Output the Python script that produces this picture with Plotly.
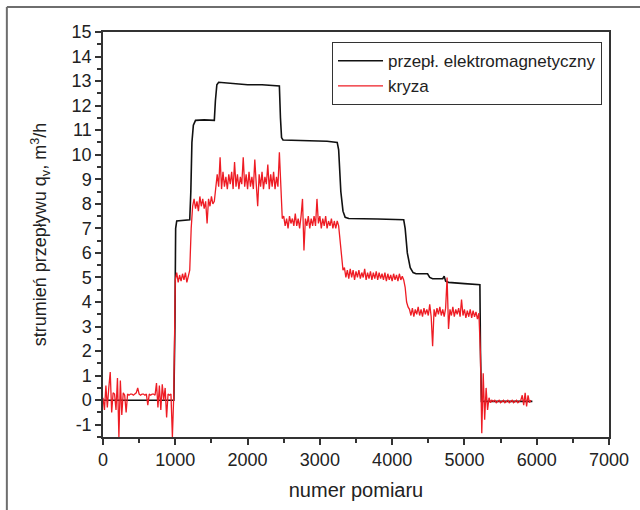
import numpy as np
import plotly.graph_objects as go

# --- Data -------------------------------------------------------------
# przepływomierz elektromagnetyczny (black) – breakpoints
em_x = [0, 500, 980, 995, 1005, 1020, 1200, 1215, 1230, 1250, 1280, 1400, 1540, 1555, 1575, 1600,
        1800, 2000, 2200, 2440, 2455, 2470, 2490, 2700, 2900, 3100, 3240, 3260, 3290, 3320, 3350,
        3400, 3800, 4160, 4180, 4210, 4250, 4290, 4330, 4490, 4520, 4560, 4700, 4720, 4740, 4780,
        5000, 5214, 5222, 5235, 5600, 5940]
em_y = [0.0, 0.0, 0.0, 3.0, 7.0, 7.3, 7.35, 8.5, 10.5, 11.2, 11.4, 11.42, 11.4, 12.2, 12.85, 12.95,
        12.9, 12.85, 12.85, 12.8, 11.5, 10.7, 10.6, 10.58, 10.55, 10.55, 10.5, 10.2, 8.5, 7.7, 7.45,
        7.4, 7.38, 7.35, 7.0, 6.0, 5.4, 5.2, 5.15, 5.15, 5.0, 4.95, 4.95, 5.05, 4.85, 4.8,
        4.75, 4.7, 2.0, -0.05, -0.05, -0.05]

# kryza (red) – sampled every 20 measurements
kryza_step = 20
kryza_y = [
    # 0 .. 980
    0.1, -0.4, 0.6, -0.3, 0.5, 1.15, -0.5, 0.3, 0.25, -0.4,
    0.9, -1.5, 0.8, -0.6, 0.3, 0.2, -0.5, 0.25, 0.2, 0.25,
    0.25, 0.2, 0.25, 0.3, 0.5, 0.25, 0.2, 0.25, 0.25, 0.2,
    0.25, -0.2, 0.25, 0.2, 0.25, 0.25, 0.2, 0.7, -0.3, 0.6,
    -0.4, 0.65, 0.0, 0.5, -0.7, 0.25, 0.2, 0.25, -1.5, 0.3,
    # 1000 .. 1180
    4.9, 5.2, 4.8, 5.1, 4.85, 5.15, 4.9, 5.2, 4.8, 5.05,
    # 1200 .. 1240
    5.3, 7.0, 7.9,
    # 1260 .. 1520
    8.2, 7.8, 8.1, 7.7, 8.3, 7.9, 8.2, 7.8, 8.1, 7.2, 8.2, 7.9, 8.3, 8.0,
    # 1540 .. 1560
    8.1, 8.6,
    # 1580 .. 2460
    9.2, 8.7, 9.9, 8.6, 9.3, 8.7, 9.1, 8.6, 9.2, 8.8,
    9.3, 8.6, 9.7, 8.7, 9.2, 8.6, 9.1, 8.8, 9.9, 8.7,
    9.2, 8.6, 9.3, 8.7, 9.1, 8.6, 9.8, 8.8, 7.9, 9.2,
    8.7, 9.3, 8.6, 9.1, 8.8, 9.6, 8.6, 9.2, 8.7, 9.3,
    8.6, 9.1, 8.7, 10.1, 8.8,
    # 2480
    7.4,
    # 2500 .. 3260
    7.5, 7.1, 7.4, 7.0, 7.5, 7.2, 7.4, 7.1, 7.6, 7.1,
    7.4, 7.0, 7.5, 8.2, 6.1, 7.4, 7.1, 7.5, 7.0, 7.4,
    7.1, 7.5, 7.1, 8.2, 7.2, 7.5, 7.0, 7.4, 7.1, 7.5,
    7.0, 7.3, 7.1, 7.4, 7.0, 7.3, 7.0, 7.3, 7.1,
    # 3280 .. 3320
    6.5, 5.6, 5.3,
    # 3340 .. 4140
    5.4, 5.0, 5.3, 4.95, 5.35, 5.0, 5.3, 4.9, 5.25, 5.0,
    5.3, 4.95, 5.2, 5.0, 5.35, 4.9, 5.2, 4.95, 5.25, 4.9,
    5.2, 4.95, 5.25, 4.9, 5.2, 4.95, 5.15, 4.9, 5.2, 4.85,
    5.15, 4.9, 5.1, 4.85, 5.15, 4.9, 5.1, 4.85, 5.15, 4.9,
    5.05,
    # 4160 .. 4220
    4.9, 4.6, 4.0, 3.8,
    # 4240 .. 5200
    3.7, 3.45, 3.75, 3.4, 3.7, 3.5, 3.8, 3.45, 3.7, 3.4,
    3.75, 3.5, 3.7, 3.45, 3.9, 3.4, 2.2, 3.7, 3.4, 3.75,
    3.5, 3.8, 3.45, 3.7, 3.4, 3.75, 5.0, 2.9, 3.7, 3.45,
    3.8, 3.4, 3.7, 3.5, 3.75, 3.4, 4.1, 3.45, 3.7, 3.35,
    3.65, 3.4, 3.7, 3.35, 3.65, 3.4, 3.6, 3.3, 3.55,
    # 5220 .. 5340
    2.0, -1.35, 1.1, -0.8, 0.5, -0.4, 0.1,
    # 5360 .. 5920
    -0.1, 0.0, -0.05, 0.0, -0.1, -0.05, 0.0, -0.1, -0.05, 0.0,
    -0.1, -0.05, 0.0, -0.1, -0.05, 0.0, -0.1, -0.05, 0.0, -0.1,
    -0.05, 0.0, 0.2, -0.2, 0.3, -0.25, 0.2, -0.1, 0.0,
]
kryza_x = np.arange(len(kryza_y)) * kryza_step

x_ticks = [0, 1000, 2000, 3000, 4000, 5000, 6000, 7000]
y_ticks = list(range(-1, 16))

# --- Figure -------------------------------------------------------------
FONT = "Liberation Sans, Arial, sans-serif"
fig = go.Figure()
fig.add_trace(go.Scatter(x=em_x, y=em_y, mode="lines", name="przepł. elektromagnetyczny",
                         line=dict(color="#111111", width=1.6)))
fig.add_trace(go.Scatter(x=kryza_x, y=kryza_y, mode="lines", name="kryza",
                         line=dict(color="#ee1c24", width=1.3)))

axis_common = dict(showgrid=False, zeroline=False, showline=True, linecolor="#333333",
                   linewidth=1.5, mirror=True, ticks="outside", ticklen=6, tickwidth=1.5,
                   tickcolor="#333333", tickfont=dict(size=18, color="#222222", family=FONT))

fig.update_xaxes(range=[0, 7000], tickvals=x_ticks, ticktext=[str(v) for v in x_ticks],
                 minor=dict(ticks="outside", ticklen=4, tickwidth=1.5, tickcolor="#333333", dtick=500),
                 title=dict(text="numer pomiaru", font=dict(size=20, color="#222222", family=FONT),
                            standoff=14),
                 **axis_common)
fig.update_yaxes(range=[-1.5, 15], tickvals=y_ticks, ticktext=[str(v) for v in y_ticks],
                 minor=dict(ticks="outside", ticklen=4, tickwidth=1.5, tickcolor="#333333", dtick=0.5),
                 title=dict(text="strumień przepływu q<sub>v</sub>, m<sup>3</sup>/h",
                            font=dict(size=18, color="#222222", family=FONT), standoff=20),
                 **axis_common)

fig.update_layout(
    width=640, height=510,
    margin=dict(l=103, r=31, t=32, b=73),
    paper_bgcolor="white", plot_bgcolor="white",
    font=dict(family=FONT, color="#222222"),
    legend=dict(x=0.4526, y=0.975, xanchor="left", yanchor="top",
                bgcolor="white", bordercolor="#333333", borderwidth=1,
                font=dict(size=17, family=FONT, color="#222222"),
                itemwidth=45, tracegroupgap=0),
    shapes=[
        dict(type="line", xref="paper", yref="paper", x0=-0.19, x1=1.07, y0=1.0617, y1=1.0617,
             line=dict(color="#6e6e6e", width=2)),
        dict(type="line", xref="paper", yref="paper", x0=-0.19, x1=-0.19, y0=1.0617, y1=-0.2,
             line=dict(color="#6e6e6e", width=2)),
    ],
)

fig.write_html("out.html")
